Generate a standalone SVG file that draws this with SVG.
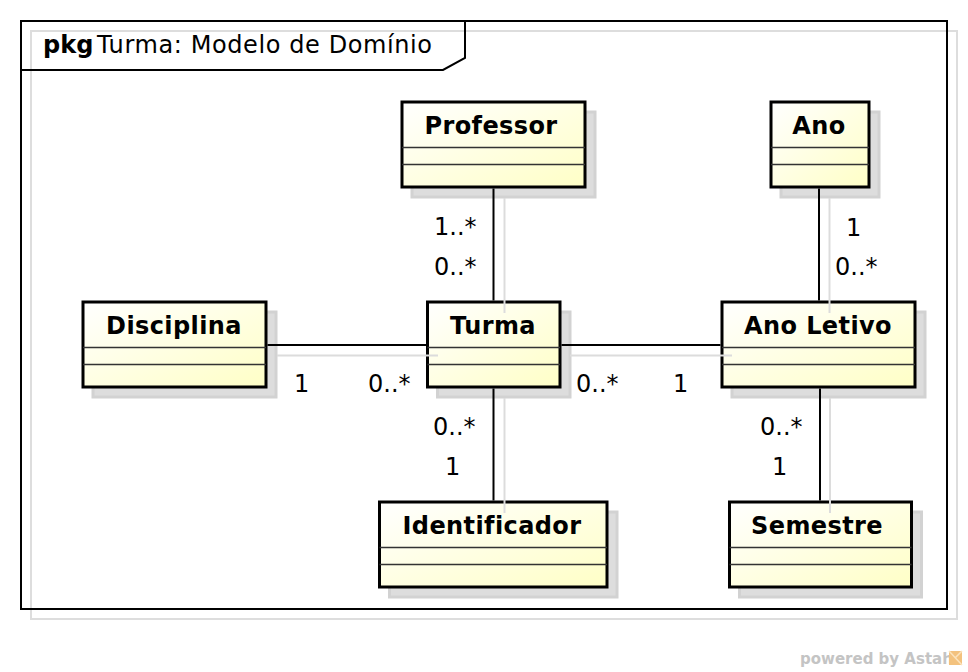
<svg xmlns="http://www.w3.org/2000/svg" width="968" height="672" viewBox="0 0 968 672">
<style>
  .shadow { fill: #dddddd; stroke: #d2d2d2; stroke-width: 3; }
  .box { fill: url(#classFill); stroke: #000; stroke-width: 3; }
  .div { stroke: #333; stroke-width: 1.6; }
  .name { font-family: "DejaVu Sans", "Liberation Sans", sans-serif; font-weight: bold; font-size: 24px; fill: #000; text-anchor: middle; letter-spacing: 0.4px; }
  .mult { font-family: "DejaVu Sans", "Liberation Sans", sans-serif; font-size: 24px; fill: #000; }
  .conn { stroke: #000; stroke-width: 2; fill: none; }
  .connShadow { stroke: #dcdcdc; stroke-width: 2; fill: none; }
</style>
<defs>
  <linearGradient id="classFill" x1="0" y1="0" x2="1" y2="1">
    <stop offset="0" stop-color="#ffffff"/>
    <stop offset="1" stop-color="#ffffc6"/>
  </linearGradient>
</defs>
<rect x="0" y="0" width="968" height="672" fill="#ffffff"/>

<g id="frame">
  <rect x="31" y="31" width="926" height="588" fill="none" stroke="#dddddd" stroke-width="2"/>
  <rect x="21" y="21" width="926" height="588" fill="none" stroke="#000" stroke-width="2"/>
  <path d="M21,70 H443 L465,58 V21" fill="none" stroke="#000" stroke-width="2"/>
  <text x="43" y="53" font-family="DejaVu Sans, Liberation Sans, sans-serif" font-size="24" font-weight="bold" fill="#000">pkg</text>
  <text x="97" y="53" font-family="DejaVu Sans, Liberation Sans, sans-serif" font-size="24" fill="#000" letter-spacing="0.6">Turma: Modelo de Domínio</text>
</g>

<g id="node-professor">
  <rect class="shadow" x="412" y="112" width="183" height="85"/>
  <rect class="box" x="402" y="102" width="183" height="85"/>
  <line class="div" x1="402" y1="147.5" x2="585" y2="147.5"/>
  <line class="div" x1="402" y1="164.5" x2="585" y2="164.5"/>
  <text class="name" x="491" y="134">Professor</text>
</g>

<g id="node-ano">
  <rect class="shadow" x="781" y="112" width="98" height="85"/>
  <rect class="box" x="771" y="102" width="98" height="85"/>
  <line class="div" x1="771" y1="147.5" x2="869" y2="147.5"/>
  <line class="div" x1="771" y1="164.5" x2="869" y2="164.5"/>
  <text class="name" x="819" y="134">Ano</text>
</g>

<g id="node-disciplina">
  <rect class="shadow" x="93" y="312" width="183" height="85"/>
  <rect class="box" x="83" y="302" width="183" height="85"/>
  <line class="div" x1="83" y1="347.5" x2="266" y2="347.5"/>
  <line class="div" x1="83" y1="364.5" x2="266" y2="364.5"/>
  <text class="name" x="174" y="334">Disciplina</text>
</g>

<g id="node-turma">
  <rect class="shadow" x="437.5" y="312" width="132.5" height="85"/>
  <rect class="box" x="427.5" y="302" width="132.5" height="85"/>
  <line class="div" x1="427.5" y1="347.5" x2="560" y2="347.5"/>
  <line class="div" x1="427.5" y1="364.5" x2="560" y2="364.5"/>
  <text class="name" x="493" y="334">Turma</text>
</g>

<g id="node-ano-letivo">
  <rect class="shadow" x="732" y="312" width="193" height="85"/>
  <rect class="box" x="722" y="302" width="193" height="85"/>
  <line class="div" x1="722" y1="347.5" x2="915" y2="347.5"/>
  <line class="div" x1="722" y1="364.5" x2="915" y2="364.5"/>
  <text class="name" x="818" y="334">Ano Letivo</text>
</g>

<g id="node-identificador">
  <rect class="shadow" x="389.5" y="512" width="227.5" height="85"/>
  <rect class="box" x="379.5" y="502" width="227.5" height="85"/>
  <line class="div" x1="379.5" y1="547.5" x2="607" y2="547.5"/>
  <line class="div" x1="379.5" y1="564.5" x2="607" y2="564.5"/>
  <text class="name" x="492" y="534">Identificador</text>
</g>

<g id="node-semestre">
  <rect class="shadow" x="739.5" y="512" width="182" height="85"/>
  <rect class="box" x="729.5" y="502" width="182" height="85"/>
  <line class="div" x1="729.5" y1="547.5" x2="911.5" y2="547.5"/>
  <line class="div" x1="729.5" y1="564.5" x2="911.5" y2="564.5"/>
  <text class="name" x="817" y="534">Semestre</text>
</g>

<g id="connectors">
  <line class="connShadow" x1="504.5" y1="198" x2="504.5" y2="313"/>
  <line class="connShadow" x1="829.5" y1="198" x2="829.5" y2="313"/>
  <line class="connShadow" x1="277" y1="355.5" x2="438" y2="355.5"/>
  <line class="connShadow" x1="570" y1="355.5" x2="732" y2="355.5"/>
  <line class="connShadow" x1="504.5" y1="398" x2="504.5" y2="513"/>
  <line class="connShadow" x1="830" y1="398" x2="830" y2="513"/>

  <line class="conn" x1="493.5" y1="188.5" x2="493.5" y2="300.5"/>
  <line class="conn" x1="819" y1="188.5" x2="819" y2="300.5"/>
  <line class="conn" x1="267.5" y1="345" x2="426" y2="345"/>
  <line class="conn" x1="561.5" y1="345" x2="720.5" y2="345"/>
  <line class="conn" x1="493.5" y1="388.5" x2="493.5" y2="500.5"/>
  <line class="conn" x1="820" y1="388.5" x2="820" y2="500.5"/>

  <text class="mult" x="434" y="235">1..*</text>
  <text class="mult" x="434" y="275">0..*</text>
  <text class="mult" x="846" y="236">1</text>
  <text class="mult" x="835" y="275">0..*</text>
  <text class="mult" x="294" y="392">1</text>
  <text class="mult" x="368" y="392">0..*</text>
  <text class="mult" x="576" y="392">0..*</text>
  <text class="mult" x="673" y="392">1</text>
  <text class="mult" x="433" y="435">0..*</text>
  <text class="mult" x="445" y="475">1</text>
  <text class="mult" x="760" y="435">0..*</text>
  <text class="mult" x="772" y="475">1</text>
</g>

<g id="watermark">
  <text x="800" y="664" font-family="DejaVu Sans, Liberation Sans, sans-serif" font-size="15" font-weight="bold" fill="#c4c4c4">powered by Astah</text>
  <rect x="949" y="651" width="13" height="14" fill="#f3c27e"/>
  <path d="M949,651 L962,665 M962,651 L955,658" stroke="#fbe3bd" stroke-width="1.5" fill="none"/>
</g>
</svg>
